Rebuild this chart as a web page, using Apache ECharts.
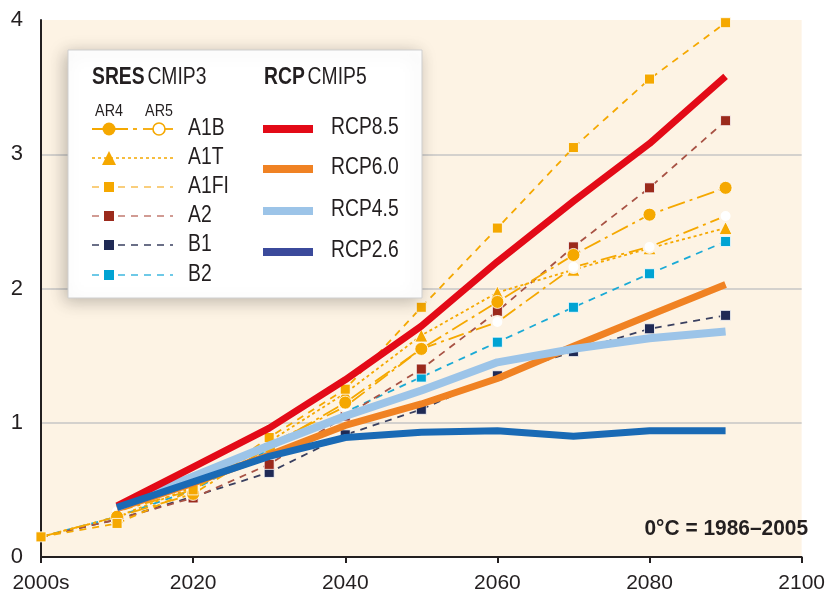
<!DOCTYPE html>
<html>
<head>
<meta charset="utf-8">
<script src="https://cdn.jsdelivr.net/npm/echarts@6/dist/echarts.min.js"></script>
<style>
  html, body { margin: 0; padding: 0; background: #ffffff; }
  #chart { width: 828px; height: 600px; }
</style>
</head>
<body>
<div id="chart"></div>
<script>
// Decades on the time axis
const sresYears = [2000, 2010, 2020, 2030, 2040, 2050, 2060, 2070, 2080, 2090];
const rcpYears = [2010, 2020, 2030, 2040, 2050, 2060, 2070, 2080, 2090];

// SRES CMIP3 scenarios (°C relative to 1986–2005)
const a1bAR4 = [0.15, 0.30, 0.47, 0.82, 1.15, 1.55, 1.90, 2.25, 2.55, 2.75];
const a1bAR5 = [null, 0.34, 0.50, 0.84, 1.12, 1.55, 1.75, 2.16, 2.31, 2.54];
const a1t    = [0.15, 0.30, 0.52, 0.86, 1.22, 1.65, 1.97, 2.14, 2.30, 2.45];
const a1fi   = [0.15, 0.25, 0.50, 0.89, 1.25, 1.86, 2.45, 3.05, 3.56, 3.98];
const a2     = [0.15, 0.28, 0.44, 0.69, 1.05, 1.40, 1.83, 2.31, 2.75, 3.25];
const b1     = [0.15, 0.28, 0.45, 0.63, 0.91, 1.10, 1.35, 1.53, 1.70, 1.80];
const b2     = [0.15, 0.30, 0.50, 0.80, 1.08, 1.34, 1.60, 1.86, 2.11, 2.35];

// RCP CMIP5 pathways
const rcp85 = [0.38, 0.67, 0.96, 1.32, 1.72, 2.20, 2.65, 3.08, 3.58];
const rcp60 = [0.36, 0.55, 0.76, 0.98, 1.14, 1.33, 1.57, 1.80, 2.03];
const rcp45 = [0.37, 0.60, 0.83, 1.05, 1.24, 1.45, 1.55, 1.63, 1.68];
const rcp26 = [0.37, 0.56, 0.75, 0.89, 0.93, 0.94, 0.90, 0.94, 0.94];

// Axis ticks
const xTicks = [2000, 2020, 2040, 2060, 2080, 2100];
const yTicks = [0, 1, 2, 3, 4];
const baselineNote = '0°C = 1986–2005';

const FONT = '"Liberation Sans", Arial, sans-serif';
const INK = '#231F20';
const ORANGE = '#F5A800';
const NARROW = 0.84;   // horizontal squeeze for key text, condensed look

function pairs(years, vals, firstSymbol) {
  return years.map((y, i) => {
    if (vals[i] === null) return [y, null];
    if (y === 2000 && !firstSymbol) return { value: [y, vals[i]], symbol: 'none' };
    return [y, vals[i]];
  });
}

function sres(name, vals, color, lineColor, dash, symbol, size, firstSymbol, z) {
  return {
    name, type: 'line', z: z,
    data: pairs(sresYears, vals, firstSymbol),
    symbol, symbolSize: size,
    showAllSymbol: true,
    lineStyle: { color: lineColor, width: 1.8, type: dash },
    itemStyle: symbol === 'emptyCircle'
      ? { color: '#FDF3E4', borderColor: color, borderWidth: 1.6 }
      : { color, borderColor: '#ffffff', borderWidth: 0.8 },
    connectNulls: false,
    animation: false
  };
}

function rcp(name, vals, color, width, z) {
  return {
    name, type: 'line', z: z,
    data: rcpYears.map((y, i) => [y, vals[i]]),
    symbol: 'none',
    lineStyle: { color, width, cap: 'butt', join: 'round' },
    animation: false
  };
}

const series = [
  sres('B1', b1, '#1F2A55', '#3A4060', [7, 6], 'rect', 10, false, 2),
  sres('B2', b2, '#00A3D3', '#1AAAD6', [7, 6], 'rect', 10, false, 2),
  sres('A2', a2, '#9B2A1C', '#A85244', [7, 6], 'rect', 10, false, 2),
  sres('A1T', a1t, ORANGE, ORANGE, [3, 3], 'triangle', 13, false, 2),
  sres('A1B AR5', a1bAR5, ORANGE, ORANGE, [16, 5, 3, 5], 'emptyCircle', 12, false, 2),
  sres('A1B AR4', a1bAR4, ORANGE, ORANGE, [18, 5, 3, 5], 'circle', 13, false, 2),
  sres('A1FI', a1fi, ORANGE, ORANGE, [7, 6], 'rect', 10, true, 2),
  rcp('RCP6.0', rcp60, '#F08223', 7, 3),
  rcp('RCP4.5', rcp45, '#9CC4E8', 8, 4),
  rcp('RCP8.5', rcp85, '#E30A17', 7, 5),
  rcp('RCP2.6', rcp26, '#1A6AB5', 7, 6)
];

// Key panel
const LX = 68, LY = 50;
const legendEls = [];
legendEls.push({
  type: 'rect', z: 100,
  shape: { x: LX, y: LY, width: 354, height: 248 },
  style: { fill: '#ffffff', stroke: '#cfcfcf', lineWidth: 1,
           shadowBlur: 16, shadowColor: 'rgba(0,0,0,0.25)', shadowOffsetX: -3, shadowOffsetY: 3 }
});
function txt(x, y, text, size, weight, align) {
  legendEls.push({
    type: 'text', z: 101, x, y, scaleX: NARROW,
    style: { text, font: (weight || 'normal') + ' ' + size + 'px ' + FONT, fill: INK,
             textAlign: align || 'left', textVerticalAlign: 'middle' }
  });
}
function rich(x, y, bold, rest) {
  legendEls.push({
    type: 'text', z: 101, x, y, scaleX: NARROW,
    style: {
      text: '{b|' + bold + '} {r|' + rest + '}',
      textVerticalAlign: 'middle',
      rich: {
        b: { fontFamily: FONT, fontSize: 23, fontWeight: 'bold', fill: INK, color: INK },
        r: { fontFamily: FONT, fontSize: 23, fill: INK, color: INK }
      }
    }
  });
}
function seg(x1, x2, y, color, width, dash) {
  legendEls.push({
    type: 'line', z: 101,
    shape: { x1, y1: y, x2, y2: y },
    style: { stroke: color, lineWidth: width, lineDash: dash || null, lineCap: 'butt' }
  });
}
function mark(kind, x, y, color, size) {
  if (kind === 'rect') {
    legendEls.push({ type: 'rect', z: 102, shape: { x: x - size / 2, y: y - size / 2, width: size, height: size },
      style: { fill: color } });
  } else if (kind === 'circle') {
    legendEls.push({ type: 'circle', z: 102, shape: { cx: x, cy: y, r: size / 2 }, style: { fill: color } });
  } else if (kind === 'emptyCircle') {
    legendEls.push({ type: 'circle', z: 102, shape: { cx: x, cy: y, r: size / 2 },
      style: { fill: '#ffffff', stroke: color, lineWidth: 1.6 } });
  } else if (kind === 'triangle') {
    legendEls.push({ type: 'polygon', z: 102,
      shape: { points: [[x, y - size / 2], [x + size / 2, y + size / 2], [x - size / 2, y + size / 2]] },
      style: { fill: color } });
  }
}

rich(92, 78, 'SRES', 'CMIP3');
rich(264, 78, 'RCP', 'CMIP5');
txt(109, 111, 'AR4', 17, 'normal', 'center');
txt(159, 111, 'AR5', 17, 'normal', 'center');

// A1B row: AR4 and AR5 symbols share one dash-dot line
const rowY = [129, 158, 187, 216, 245, 275];
seg(92, 128, rowY[0], ORANGE, 1.8);
seg(133, 137, rowY[0], ORANGE, 1.8);
seg(143, 173, rowY[0], ORANGE, 1.8);
mark('circle', 109, rowY[0], ORANGE, 13);
mark('emptyCircle', 159, rowY[0], ORANGE, 12);
txt(188, rowY[0], 'A1B', 23);

const sresKey = [
  ['A1T', ORANGE, ORANGE, [3, 3], 'triangle', 14],
  ['A1FI', ORANGE, '#F7BE52', [7, 6], 'rect', 10],
  ['A2', '#9B2A1C', '#C27B70', [7, 6], 'rect', 10],
  ['B1', '#1F2A55', '#3A4060', [7, 6], 'rect', 10],
  ['B2', '#00A3D3', '#3FB8DF', [7, 6], 'rect', 10]
];
sresKey.forEach((k, i) => {
  const y = rowY[i + 1];
  seg(92, 173, y, k[2], 1.6, k[3]);
  mark(k[4], 109, y, k[1], k[5]);
  txt(188, y, k[0], 23);
});

const rcpKey = [
  ['RCP8.5', '#E30A17', 129],
  ['RCP6.0', '#F08223', 169],
  ['RCP4.5', '#9CC4E8', 211],
  ['RCP2.6', '#3B4A9B', 252]
];
rcpKey.forEach(k => {
  seg(263, 313, k[2], k[1], 8);
  txt(331, k[2] - 1, k[0], 23);
});

legendEls.push({
  type: 'text', z: 101, x: 808, y: 529, scaleX: 0.95,
  style: { text: baselineNote, font: 'bold 22px ' + FONT, fill: INK,
           textAlign: 'right', textVerticalAlign: 'middle' }
});

const chart = echarts.init(document.getElementById('chart'), null, { renderer: 'canvas' });
chart.setOption({
  animation: false,
  backgroundColor: '#ffffff',
  grid: { left: 41, right: 15, top: 20, bottom: 43, show: true, backgroundColor: '#FDF3E4', borderWidth: 0 },
  xAxis: {
    type: 'value', min: xTicks[0], max: xTicks[xTicks.length - 1], interval: 20,
    axisLine: { show: true, onZero: false, lineStyle: { color: INK, width: 2 } },
    axisTick: { show: true, length: 6, lineStyle: { color: INK, width: 2 } },
    splitLine: { show: false },
    axisLabel: {
      margin: 16, fontSize: 21, fontFamily: FONT, color: INK,
      formatter: v => (v === xTicks[0] ? '2000s' : String(v))
    }
  },
  yAxis: {
    type: 'value', min: yTicks[0], max: yTicks[yTicks.length - 1], interval: 1,
    axisLine: { show: true, lineStyle: { color: INK, width: 2 } },
    axisTick: { show: false },
    splitLine: { show: true, lineStyle: { color: ['rgba(0,0,0,0)', '#C6C6C6', '#C6C6C6', '#C6C6C6', 'rgba(0,0,0,0)'], width: 1.6 } },
    axisLabel: { margin: 18, fontSize: 22, fontFamily: FONT, color: INK }
  },
  series,
  graphic: legendEls
});
</script>
</body>
</html>
